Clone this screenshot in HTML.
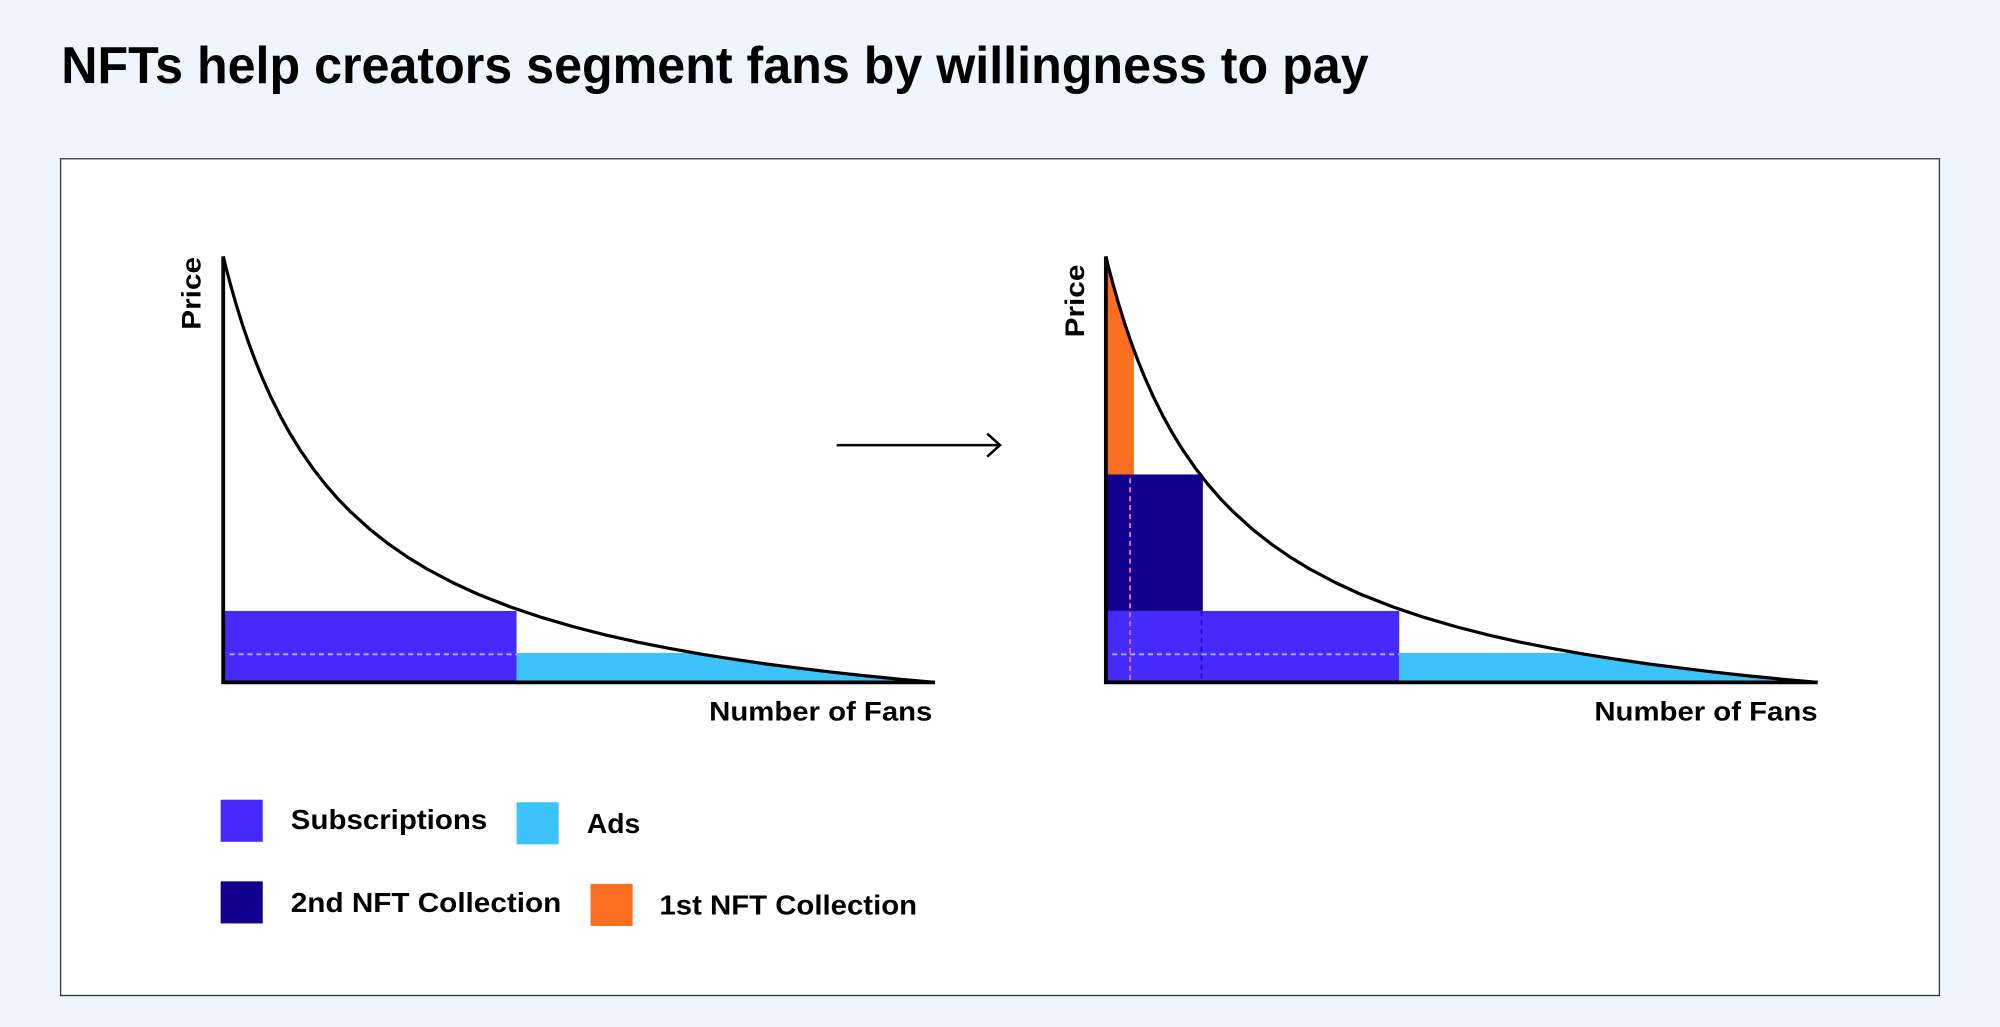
<!DOCTYPE html>
<html><head><meta charset="utf-8"><style>
html,body{margin:0;padding:0;background:#eef5fd;}
svg{display:block}
text{font-family:"Liberation Sans",sans-serif;font-weight:bold;fill:#000}
</style></head><body>
<svg width="2000" height="1027" viewBox="0 0 1568 805.2" preserveAspectRatio="none">
<defs>
<polyline id="curve" points="0,-334 3,-322 6,-310.8 10,-296.8 15,-280.7 20,-266 25,-252.6 30,-240.2 37,-224.4 45,-208.4 52,-195.7 60,-182.7 70,-168.2 80,-155.3 90,-143.8 100,-133.6 115,-120 130,-108.2 145,-97.9 160,-88.8 180,-78.2 200,-69 225,-59.2 250,-50.8 275,-43.5 300,-37.1 325,-31.5 350,-26.6 375,-22.1 400,-18.2 425,-14.5 450,-11.3 475,-8.3 500,-5.5 530,-2.5 558,0" fill="none" stroke="#000" stroke-width="2.5" stroke-linejoin="round"/>
</defs>
<rect x="0" y="0" width="1568" height="805.2" fill="#eef5fd"/>
<text x="48" y="65" font-size="41" textLength="1025" lengthAdjust="spacingAndGlyphs">NFTs help creators segment fans by willingness to pay</text>
<rect x="47.5" y="124.5" width="1473" height="656" fill="#fff" stroke="#333" stroke-width="1"/>

<!-- Left chart -->
<g transform="translate(175,535)">
<rect x="0" y="-56" width="230" height="56" fill="#4629fb"/>
<polygon points="230,0 230,-23 370,-23 375,-22.1 400,-18.2 425,-14.5 450,-11.3 475,-8.3 500,-5.5 530,-2.5 558,0" fill="#3cc3fa"/>
<line x1="5" y1="-22" x2="230" y2="-22" stroke="#a9b9ff" stroke-width="1.5" stroke-dasharray="4,3"/>
<use href="#curve"/>
<polyline points="0,-334 0,0 558,0" fill="none" stroke="#000" stroke-width="3"/>
</g>
<text transform="translate(157,230) rotate(-90)" font-size="21" text-anchor="middle" textLength="57" lengthAdjust="spacingAndGlyphs">Price</text>
<text x="556" y="565" font-size="21" textLength="175" lengthAdjust="spacingAndGlyphs">Number of Fans</text>

<!-- Arrow -->
<line x1="656" y1="349" x2="784" y2="349" stroke="#000" stroke-width="2"/>
<polyline points="774,340 784,349 774,358" fill="none" stroke="#000" stroke-width="2"/>

<!-- Right chart -->
<g transform="translate(867,535)">
<polygon points="0,-163 0,-334 3,-322 6,-310.8 10,-296.8 15,-280.7 20,-266 22,-260.5 22,-163" fill="#fc6f20"/>
<rect x="0" y="-163" width="76" height="107" fill="#11008e"/>
<rect x="0" y="-56" width="230" height="56" fill="#4629fb"/>
<polygon points="230,0 230,-23 370,-23 375,-22.1 400,-18.2 425,-14.5 450,-11.3 475,-8.3 500,-5.5 530,-2.5 558,0" fill="#3cc3fa"/>
<line x1="5" y1="-22" x2="230" y2="-22" stroke="#a9b9ff" stroke-width="1.5" stroke-dasharray="4,3"/>
<line x1="19" y1="-160" x2="19" y2="0" stroke="#e070b0" stroke-width="1.5" stroke-dasharray="4,3"/>
<line x1="75" y1="-56" x2="75" y2="0" stroke="#1a10c8" stroke-width="1.5" stroke-dasharray="4,3"/>
<use href="#curve"/>
<polyline points="0,-334 0,0 558,0" fill="none" stroke="#000" stroke-width="3"/>
</g>
<text transform="translate(850,236) rotate(-90)" font-size="21" text-anchor="middle" textLength="57" lengthAdjust="spacingAndGlyphs">Price</text>
<text x="1250" y="565" font-size="21" textLength="175" lengthAdjust="spacingAndGlyphs">Number of Fans</text>

<!-- Legend -->
<rect x="173" y="627" width="33" height="33" fill="#4629fb"/>
<text x="228" y="650" font-size="22" textLength="154" lengthAdjust="spacingAndGlyphs">Subscriptions</text>
<rect x="405" y="629" width="33" height="33" fill="#3cc3fa"/>
<text x="460" y="653" font-size="22" textLength="42" lengthAdjust="spacingAndGlyphs">Ads</text>
<rect x="173" y="691" width="33" height="33" fill="#11008e"/>
<text x="228" y="715" font-size="22" textLength="212" lengthAdjust="spacingAndGlyphs">2nd NFT Collection</text>
<rect x="463" y="693" width="33" height="33" fill="#fc6f20"/>
<text x="517" y="717" font-size="22" textLength="202" lengthAdjust="spacingAndGlyphs">1st NFT Collection</text>
</svg>
</body></html>
